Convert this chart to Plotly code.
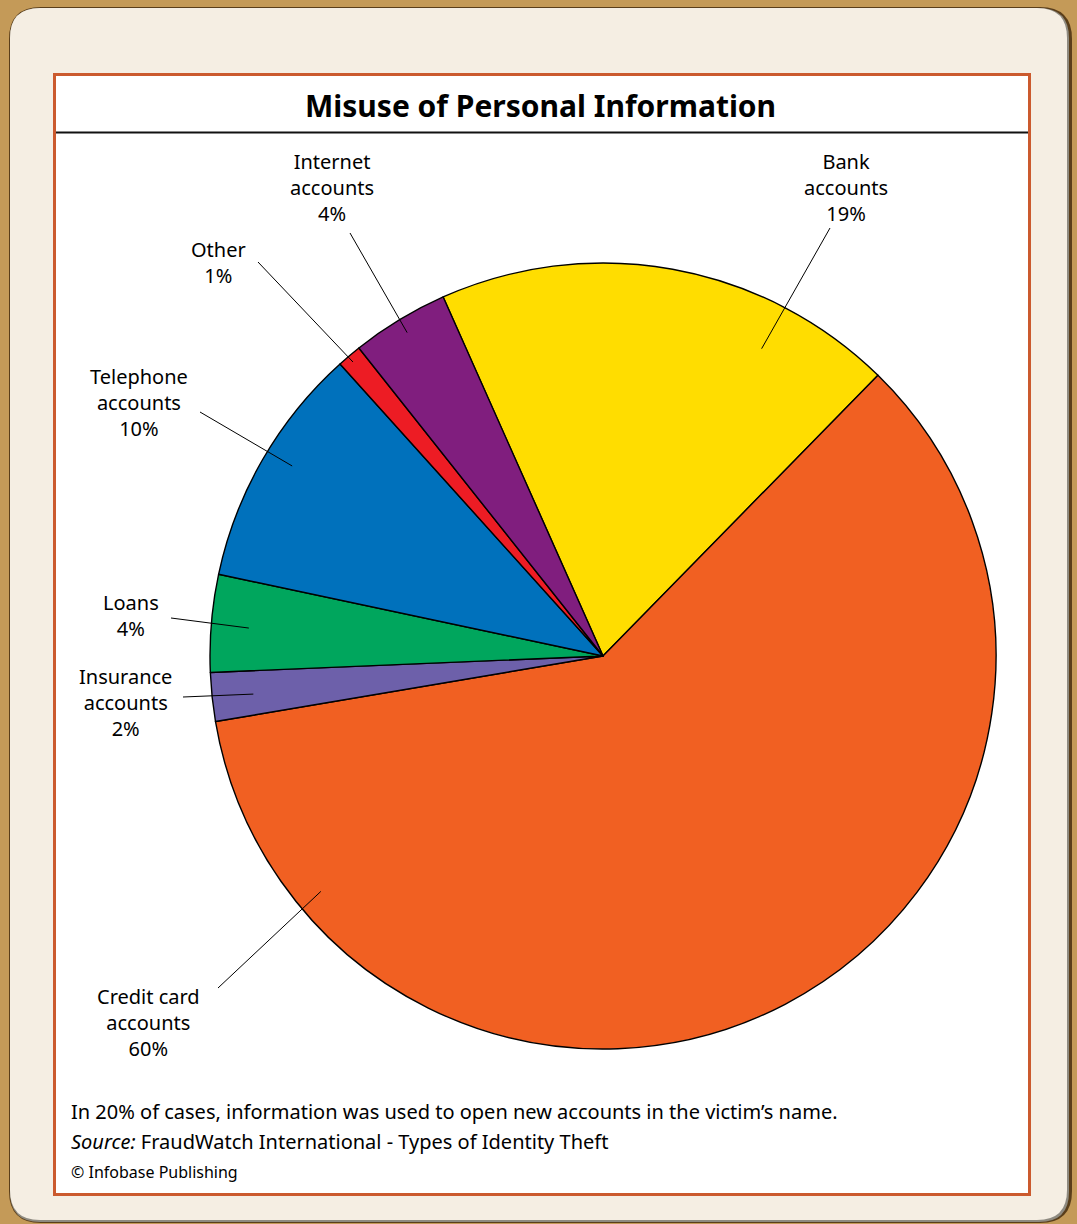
import math
import plotly.graph_objects as go

# ---------------- data ----------------
categories = ["Bank accounts", "Credit card accounts", "Insurance accounts", "Loans",
              "Telephone accounts", "Other", "Internet accounts"]
values = [19, 60, 2, 4, 10, 1, 4]
label_lines = [["Bank", "accounts"], ["Credit card", "accounts"], ["Insurance", "accounts"],
               ["Loans"], ["Telephone", "accounts"], ["Other"], ["Internet", "accounts"]]
title_text = "Misuse of Personal Information"
note_text = "In 20% of cases, information was used to open new accounts in the victim\u2019s name."
source_text = "<i>Source:</i> FraudWatch International - Types of Identity Theft"
credit_text = "\u00a9 Infobase Publishing"

# ---------------- style ----------------
W, H = 1077, 1224
CX, CY, R = 603, 656, 393
ROTATION = -24
colors = ["#FFDD00", "#F16022", "#6D60AA", "#00A65D", "#0071BC", "#ED1C24", "#801E7E"]
FONT = "Noto Sans"
LBL_SIZE = 20
# label layout: (text centre x, text block centre y, leader tail x, tail y,
#                tip position within slice (0..1), tip radius fraction)
label_layout = [
    (846, 187, 830, 228, 0.75, 0.88),
    (148, 1022, 218, 988, 0.86, 0.935),
    (125, 702, 183, 697, 0.47, 0.895),
    (131, 615, 171, 618, 0.48, 0.904),
    (139, 402, 200, 412, 0.54, 0.927),
    (218, 262, 258, 262, 0.45, 0.982),
    (332, 187, 350, 233, 0.50, 0.962),
]

fig = go.Figure()

# invisible pixel-space axes for shapes/annotations
fig.update_xaxes(range=[0, W], visible=False, domain=[0, 1], fixedrange=True)
fig.update_yaxes(range=[H, 0], visible=False, domain=[0, 1], fixedrange=True)

fig.add_trace(go.Pie(
    labels=categories, values=values, sort=False, direction="clockwise",
    rotation=ROTATION, textinfo="none", hoverinfo="label+percent",
    marker=dict(colors=colors, line=dict(color="#000000", width=1.4)),
    domain=dict(x=[(CX - R) / W, (CX + R) / W], y=[1 - (CY + R) / H, 1 - (CY - R) / H]),
    showlegend=False,
))

shapes = []
def rrect(x0, y0, x1, y1, r):
    return (f"M {x0+r},{y0} L {x1-r},{y0} Q {x1},{y0} {x1},{y0+r} L {x1},{y1-r} "
            f"Q {x1},{y1} {x1-r},{y1} L {x0+r},{y1} Q {x0},{y1} {x0},{y1-r} "
            f"L {x0},{y0+r} Q {x0},{y0} {x0+r},{y0} Z")

# frame: shadow + cream rounded panel
shapes.append(dict(type="path", path=rrect(9, 7, 1072, 1223, 32), xref="x", yref="y",
                   fillcolor="#5A3E1A", line=dict(width=0), layer="below"))
shapes.append(dict(type="path", path=rrect(10, 8, 1069, 1222, 30), xref="x", yref="y",
                   fillcolor="#8E8A80", line=dict(width=0), layer="below"))
shapes.append(dict(type="path", path=rrect(10, 8, 1067, 1220, 30), xref="x", yref="y",
                   fillcolor="#F5EEE3", line=dict(width=0), layer="below"))
# white inner panel with orange border
shapes.append(dict(type="rect", x0=54.5, y0=74.5, x1=1029.5, y1=1194.5, xref="x", yref="y",
                   fillcolor="#FFFFFF", line=dict(color="#CB5A2E", width=3), layer="below"))
# title rule
shapes.append(dict(type="line", x0=56, x1=1028, y0=132.5, y1=132.5, xref="x", yref="y",
                   line=dict(color="#111111", width=2), layer="below"))

annotations = []
total = sum(values)
start = ROTATION
for i, v in enumerate(values):
    span = 360 * v / total
    tx, ty, lx, ly, frac, rf = label_layout[i]
    ang = math.radians(start + frac * span)
    px = CX + rf * R * math.sin(ang)
    py = CY - rf * R * math.cos(ang)
    shapes.append(dict(type="line", x0=lx, y0=ly, x1=px, y1=py, xref="x", yref="y",
                       line=dict(color="#000000", width=1), layer="above"))
    text = "<br>".join(label_lines[i] + [f"{v}%"])
    annotations.append(dict(x=tx, y=ty, xref="x", yref="y", text=text,
                            showarrow=False, xanchor="center", yanchor="middle", align="center",
                            font=dict(family=FONT, size=LBL_SIZE, color="#000000")))
    start += span

annotations.append(dict(x=540, y=105, xref="x", yref="y", text=f"<b>{title_text}</b>",
                        showarrow=False, xanchor="center", yanchor="middle",
                        font=dict(family=FONT, size=30, color="#000000")))
annotations.append(dict(x=69, y=1111, xref="x", yref="y", text=note_text, showarrow=False,
                        xanchor="left", yanchor="middle",
                        font=dict(family=FONT, size=20, color="#000000")))
annotations.append(dict(x=69, y=1141, xref="x", yref="y", text=source_text, showarrow=False,
                        xanchor="left", yanchor="middle",
                        font=dict(family=FONT, size=20, color="#000000")))
annotations.append(dict(x=69, y=1172, xref="x", yref="y", text=credit_text, showarrow=False,
                        xanchor="left", yanchor="middle",
                        font=dict(family=FONT, size=16, color="#000000")))

fig.update_layout(
    width=W, height=H, margin=dict(l=0, r=0, t=0, b=0),
    paper_bgcolor="#C49A58", plot_bgcolor="rgba(0,0,0,0)",
    shapes=shapes, annotations=annotations, showlegend=False,
)

fig.write_html("out.html", config={"displayModeBar": False},
               post_script="document.body.style.margin='0';document.body.style.background='#C49A58';")
